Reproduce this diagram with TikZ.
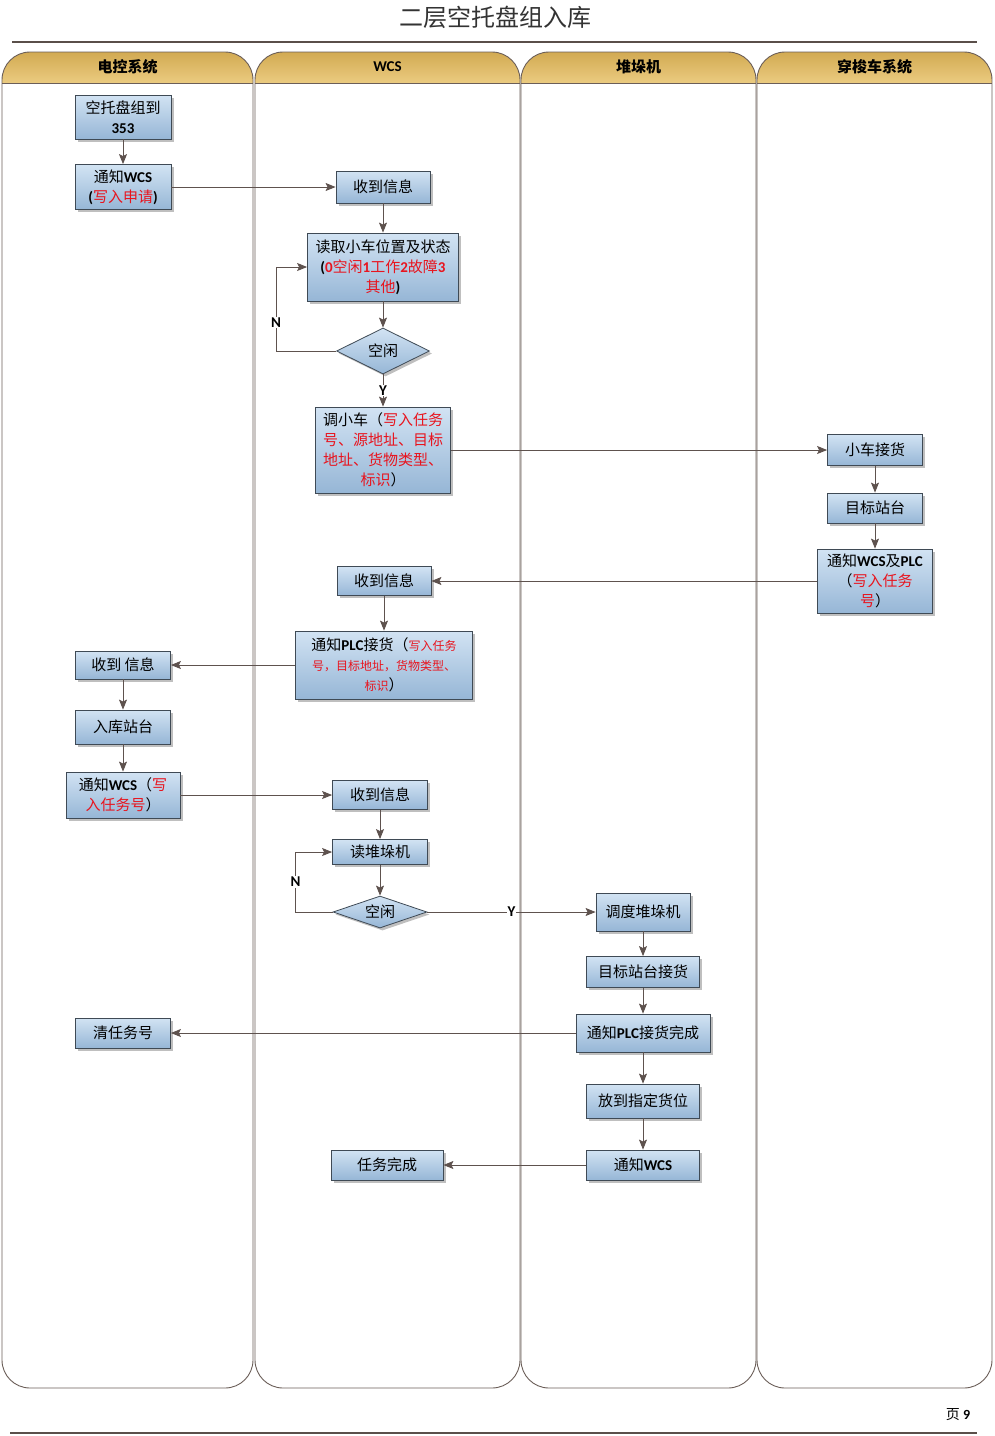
\documentclass[tikz,border=0pt]{standalone}
\usepackage{fontspec}
\setmainfont{Noto Sans CJK SC}
\newfontfamily\enfont{Carlito}
\usepackage{xcolor}
\usepackage{tikz}
\usetikzlibrary{shapes.geometric, arrows.meta, shadows}

\definecolor{lanecol}{HTML}{6B5E58}
\definecolor{arrcol}{HTML}{5E524E}
\definecolor{rulecol}{HTML}{5A4F4A}
\definecolor{boxline}{HTML}{3F4A55}
\definecolor{boxtop}{HTML}{D2E3F3}
\definecolor{boxbot}{HTML}{96B6D6}
\definecolor{hdtop}{HTML}{D2AA52}
\definecolor{hdbot}{HTML}{EBCB80}
\definecolor{cred}{HTML}{E8141E}

\newcommand\fs{\fontsize{15}{20}\selectfont}
\newcommand\fss{\fontsize{12}{19}\selectfont}
\newcommand\entx[1]{{\enfont\bfseries #1}}
\newcommand\redtx[1]{\textcolor{cred}{#1}}

\tikzset{
  %% Process box
  pbox/.style 2 args={
    rectangle, draw=boxline, line width=0.8pt,
    top color=boxtop, bottom color=boxbot,
    drop shadow={shadow xshift=2.5pt, shadow yshift=-2.5pt,
                 fill=black!50, opacity=0.5},
    minimum width=#1pt, minimum height=#2pt,
    align=center, inner sep=2pt, font=\fs
  },
  %% Decision diamond
  dbox/.style 2 args={
    diamond, aspect=3, draw=boxline, line width=0.8pt,
    top color=boxtop, bottom color=boxbot,
    drop shadow={shadow xshift=2.5pt, shadow yshift=-2.5pt,
                 fill=black!50, opacity=0.5},
    minimum width=#1pt, minimum height=#2pt,
    inner sep=1pt, font=\fs
  },
  %% Arrow
  arr/.style={-{Stealth[length=10pt,width=8pt,inset=2pt]},
              draw=arrcol, line width=0.9pt},
  %% Y / N labels
  yn/.style={font=\fontsize{15}{17}\selectfont\enfont\bfseries,
             fill=white, inner sep=1pt},
  %% Lane outline and header text
  laneline/.style={draw=lanecol, line width=0.9pt},
  hdlbl/.style={font=\fontsize{15}{17}\selectfont\bfseries},
}

\begin{document}
\begin{tikzpicture}[x=1pt, y=-1pt, every node/.style={font=\fs}]
  \useasboundingbox (0,0) rectangle (994,1436);

  %% Title and rules
  \node[font=\fontsize{24}{28}\selectfont, color=black!80] (title)
       at (495,17) {二层空托盘组入库};
  \draw[rulecol, line width=1.2pt] (12,42) -- (977,42);
  \draw[rulecol, line width=1.2pt] (10,1433) -- (977,1433);
  \node[font=\fontsize{14}{16}\selectfont] (page) at (958,1415)
       {页 \entx{9}};

  %% Swim lanes
  \foreach \xa/\xb/\lbl [count=\i] in
      {2/253/{电控系统}, 255/520/{\entx{WCS}},
       521/756/{堆垛机}, 757/992/{穿梭车系统}} {
    \begin{scope}
      \clip[rounded corners=28pt] (\xa,52) rectangle (\xb,1388);
      \fill[white] (\xa,52) rectangle (\xb,1388);
      \shade[top color=hdtop, bottom color=hdbot]
            (\xa,52) rectangle (\xb,83);
    \end{scope}
    \draw[laneline, rounded corners=28pt] (\xa,52) rectangle (\xb,1388);
    \draw[laneline] (\xa,83) -- (\xb,83);
    \node[hdlbl] (lane\i) at ({(\xa+\xb)/2},67) {\lbl};
  }

  %% 电控系统
  \node[pbox={96}{44}]  (A1) at (123,117) {空托盘组到\\\entx{353}};
  \node[pbox={96}{45}]  (A2) at (123,187)
       {通知\entx{WCS}\\\entx{(}\redtx{写入申请}\entx{)}};
  \node[pbox={95}{28}]  (A3) at (123,665) {收到 信息};
  \node[pbox={95}{34}]  (A4) at (123,727) {入库站台};
  \node[pbox={114}{46}] (A5) at (123,795)
       {通知\entx{WCS}（\redtx{写}\\\redtx{入任务号}）};
  \node[pbox={95}{30}]  (A6) at (123,1033) {清任务号};

  %% WCS
  \node[pbox={94}{32}]  (B1) at (383,187) {收到信息};
  \node[pbox={151}{68}] (B2) at (383,267)
       {读取小车位置及状态\\
        \entx{(}\redtx{\entx{0}空闲\entx{1}工作\entx{2}故障\entx{3}}\\
        \redtx{其他}\entx{)}};
  \node[dbox={93}{46}]  (D1) at (383,351) {空闲};
  \node[pbox={135}{86}] (B3) at (383,450)
       {调小车（\redtx{写入任务}\\\redtx{号、源地址、目标}\\
        \redtx{地址、货物类型、}\\\redtx{标识}）};
  \node[pbox={94}{29}]  (B4) at (384,581) {收到信息};
  \node[pbox={177}{68}] (B5) at (384,665)
       {通知\entx{PLC}接货（\redtx{\fss 写入任务}\\
        \redtx{\fss 号，目标地址，货物类型、}\\
        \redtx{\fss 标识}）};
  \node[pbox={95}{29}]  (B6) at (380,795) {收到信息};
  \node[pbox={95}{25}]  (B7) at (380,852) {读堆垛机};
  \node[dbox={94}{32}]  (D2) at (380,912) {空闲};
  \node[pbox={112}{30}] (B8) at (387,1165) {任务完成};

  %% 堆垛机
  \node[pbox={94}{38}]  (C1) at (643,912) {调度堆垛机};
  \node[pbox={113}{31}] (C2) at (643,972) {目标站台接货};
  \node[pbox={134}{38}] (C3) at (643,1033) {通知\entx{PLC}接货完成};
  \node[pbox={113}{34}] (C4) at (643,1101) {放到指定货位};
  \node[pbox={113}{30}] (C5) at (643,1165) {通知\entx{WCS}};

  %% 穿梭车系统
  \node[pbox={95}{31}]  (E1) at (875,450) {小车接货};
  \node[pbox={95}{30}]  (E2) at (875,508) {目标站台};
  \node[pbox={115}{64}] (E3) at (875,581)
       {通知\entx{WCS}及\entx{PLC}\\（\redtx{写入任务}\\\redtx{号}）};

  %% Flow arrows
  \foreach \a/\b in {A1/A2, A3/A4, A4/A5, B1/B2, B2/D1, B4/B5,
                     B6/B7, B7/D2, C1/C2, C2/C3, C3/C4, C4/C5,
                     E1/E2, E2/E3, A2/B1, B3/E1, E3/B4, B5/A3,
                     A5/B6, C3/A6, C5/B8}
    \draw[arr] (\a) -- (\b);

  %% Decisions
  \draw[arr] (D1) -- node[yn] (ylab1) {Y} (B3);
  \draw[arr] (D2) -- node[yn] (ylab2) {Y} (C1);
  \draw[arr] (D1.west) -- ++(-60,0) |- node[yn, pos=0.17] (nlab1) {N}
       (B2.west);
  \draw[arr] (D2.west) -- ++(-37,0) |- node[yn, pos=0.25] (nlab2) {N}
       (B7.west);

\end{tikzpicture}
\end{document}
